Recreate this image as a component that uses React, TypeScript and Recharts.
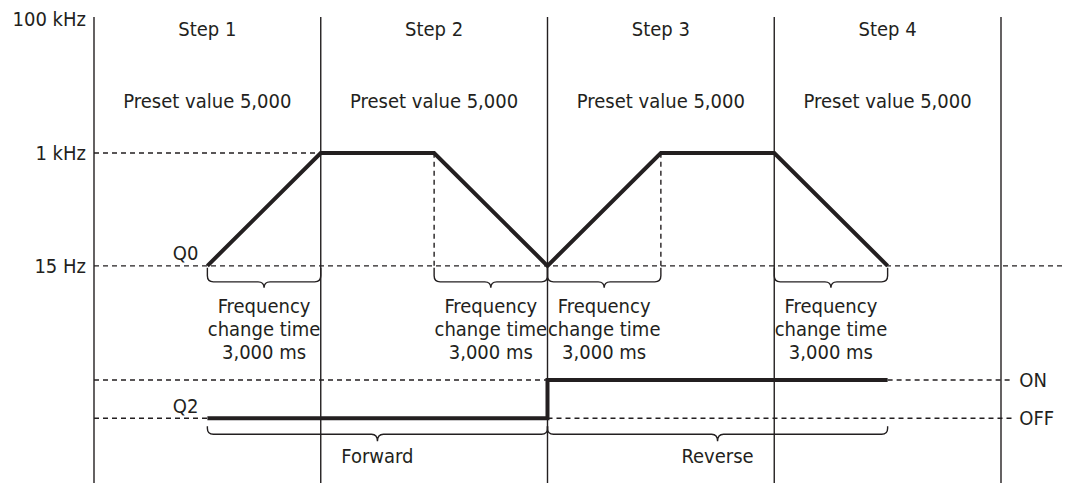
import { ComposedChart, Line, XAxis, YAxis, ReferenceLine, ReferenceDot } from 'recharts'

// time in ms, frequency rows are drawn on a schematic (non-linear) level scale
const levelNames = ['OFF', 'ON', '15 Hz', '1 kHz', '100 kHz']
const levelValues = [13.9, 22.1, 46.6, 70.8, 100]

const freqTicks = ['15 Hz', '1 kHz', '100 kHz']

const stepNames = ['Step 1', 'Step 2', 'Step 3', 'Step 4']
const stepCenters = [3000, 9000, 15000, 21000]
const stepEnds = [6000, 12000, 18000, 24000]
const presetLabels = ['Preset value 5,000', 'Preset value 5,000', 'Preset value 5,000', 'Preset value 5,000']

const q0Times = [3000, 6000, 9000, 12000, 15000, 18000, 21000]
const q0Levels = ['15 Hz', '1 kHz', '1 kHz', '15 Hz', '1 kHz', '1 kHz', '15 Hz']

const q2Times = [3000, 12000, 12000, 21000]
const q2Levels = ['OFF', 'OFF', 'ON', 'ON']

const changeStarts = [3000, 9000, 12000, 18000]
const changeEnds = [6000, 12000, 15000, 21000]
const changeText = ['Frequency', 'change time', '3,000 ms']

const dirStarts = [3000, 12000]
const dirEnds = [12000, 21000]
const dirLabels = ['Forward', 'Reverse']

const TIME_MAX = 25720
const GUIDE_END = 24300

const INK = '#231f20'
const FONT = "'DejaVu Sans Condensed', 'DejaVu Sans', sans-serif"
const FS = 20

const lv = (name: string) => levelValues[levelNames.indexOf(name)]

const q0Data = q0Times.map((t, i) => ({ t, y: lv(q0Levels[i]) }))
const q2Data = q2Times.map((t, i) => ({ t, y: lv(q2Levels[i]) }))

function bracePath(x1: number, x2: number, y: number, h: number, tip: number) {
  const m = (x1 + x2) / 2
  const r = 6
  return `M${x1},${y} L${x1},${y + h - r} Q${x1},${y + h} ${x1 + r},${y + h} L${m - r},${y + h} Q${m},${y + h} ${m},${y + h + tip} Q${m},${y + h} ${m + r},${y + h} L${x2 - r},${y + h} Q${x2},${y + h} ${x2},${y + h - r} L${x2},${y}`
}

function Brace(props: any) {
  const { x1, x2, y1, gap, h, tip, lines, textTop } = props
  const a = Math.min(x1, x2)
  const b = Math.max(x1, x2)
  const m = (a + b) / 2
  return (
    <g>
      <path d={bracePath(a, b, y1 + gap, h, tip)} fill="none" stroke={INK} strokeWidth={1.4} />
      {lines.map((s: string, i: number) => (
        <text key={i} x={m} y={y1 + textTop + i * 23} textAnchor="middle" fontSize={FS} fontFamily={FONT} fill={INK}>
          {s}
        </text>
      ))}
    </g>
  )
}

function Guide(props: any) {
  const { x1, x2, y1, y2, endLabel } = props
  return (
    <g>
      <line x1={x1} y1={y1} x2={x2} y2={y2} stroke={INK} strokeWidth={1.4} strokeDasharray="5 4" />
      {endLabel ? (
        <text x={Math.max(x1, x2) + 7} y={y1 + 7} fontSize={FS} fontFamily={FONT} fill={INK}>
          {endLabel}
        </text>
      ) : null}
    </g>
  )
}

function StepHeader(props: any) {
  const { x1, y1, y2, i } = props
  const top = Math.min(y1, y2)
  return (
    <g>
      <text x={x1} y={top + 19} textAnchor="middle" fontSize={FS} fontFamily={FONT} fill={INK}>
        {stepNames[i]}
      </text>
      <text x={x1} y={top + 91} textAnchor="middle" fontSize={FS} fontFamily={FONT} fill={INK}>
        {presetLabels[i]}
      </text>
    </g>
  )
}

function SignalName(props: any) {
  const { cx, cy, name, dy } = props
  return (
    <text x={cx - 9} y={cy + dy} textAnchor="end" fontSize={FS} fontFamily={FONT} fill={INK}>
      {name}
    </text>
  )
}

function FreqTick(props: any) {
  const { x, y, payload } = props
  const label = levelNames[levelValues.indexOf(payload.value)]
  const shift = label === '100 kHz' ? 2 : 0
  return (
    <text x={x} y={y + shift} dy="0.355em" textAnchor="end" fontSize={FS} fontFamily={FONT} fill={INK}>
      {label}
    </text>
  )
}

export default function App() {
  return (
    <div style={{ width: 1066, height: 483, background: '#fff' }}>
      <style>{'body{margin:0}'}</style>
      <ComposedChart width={1066} height={483} margin={{ top: 17, right: 0, bottom: 0, left: 0 }}>
        <XAxis type="number" dataKey="t" domain={[0, TIME_MAX]} hide allowDataOverflow />
        <YAxis
          type="number"
          domain={[0, 100]}
          ticks={freqTicks.map(lv)}
          interval={0}
          width={94}
          axisLine={{ stroke: INK, strokeWidth: 1.4 }}
          tickLine={false}
          tick={<FreqTick />}
        />

        {/* dashed guides */}
        <ReferenceLine segment={[{ x: 0, y: lv('1 kHz') }, { x: 6000, y: lv('1 kHz') }]} shape={(p: any) => <Guide {...p} />} />
        <ReferenceLine segment={[{ x: 0, y: lv('15 Hz') }, { x: TIME_MAX, y: lv('15 Hz') }]} shape={(p: any) => <Guide {...p} />} />
        <ReferenceLine segment={[{ x: 9000, y: lv('15 Hz') }, { x: 9000, y: lv('1 kHz') }]} shape={(p: any) => <Guide {...p} />} />
        <ReferenceLine segment={[{ x: 15000, y: lv('15 Hz') }, { x: 15000, y: lv('1 kHz') }]} shape={(p: any) => <Guide {...p} />} />
        <ReferenceLine segment={[{ x: 0, y: lv('ON') }, { x: 12000, y: lv('ON') }]} shape={(p: any) => <Guide {...p} />} />
        <ReferenceLine segment={[{ x: 21000, y: lv('ON') }, { x: GUIDE_END, y: lv('ON') }]} shape={(p: any) => <Guide {...p} endLabel="ON" />} />
        <ReferenceLine segment={[{ x: 0, y: lv('OFF') }, { x: 3000, y: lv('OFF') }]} shape={(p: any) => <Guide {...p} />} />
        <ReferenceLine segment={[{ x: 12000, y: lv('OFF') }, { x: GUIDE_END, y: lv('OFF') }]} shape={(p: any) => <Guide {...p} endLabel="OFF" />} />

        {/* step boundaries and headers */}
        {stepEnds.map((t) => (
          <ReferenceLine key={'b' + t} x={t} stroke={INK} strokeWidth={1.4} />
        ))}
        {stepCenters.map((t, i) => (
          <ReferenceLine key={'h' + t} x={t} shape={(p: any) => <StepHeader {...p} i={i} />} />
        ))}

        {/* braces */}
        {changeStarts.map((t, i) => (
          <ReferenceLine
            key={'c' + t}
            segment={[{ x: t, y: lv('15 Hz') }, { x: changeEnds[i], y: lv('15 Hz') }]}
            shape={(p: any) => <Brace {...p} gap={2} h={14} tip={6} lines={changeText} textTop={47} />}
          />
        ))}
        {dirStarts.map((t, i) => (
          <ReferenceLine
            key={'d' + t}
            segment={[{ x: t, y: lv('OFF') }, { x: dirEnds[i], y: lv('OFF') }]}
            shape={(p: any) => <Brace {...p} gap={8} h={8} tip={7} lines={[dirLabels[i]]} textTop={45} />}
          />
        ))}

        <Line data={q0Data} dataKey="y" type="linear" stroke={INK} strokeWidth={4} dot={false} isAnimationActive={false} />
        <Line data={q2Data} dataKey="y" type="linear" stroke={INK} strokeWidth={4} dot={false} isAnimationActive={false} />

        <ReferenceDot x={3000} y={lv('15 Hz')} r={0} shape={(p: any) => <SignalName {...p} name="Q0" dy={-6} />} />
        <ReferenceDot x={3000} y={lv('OFF')} r={0} shape={(p: any) => <SignalName {...p} name="Q2" dy={-5} />} />
      </ComposedChart>
    </div>
  )
}
